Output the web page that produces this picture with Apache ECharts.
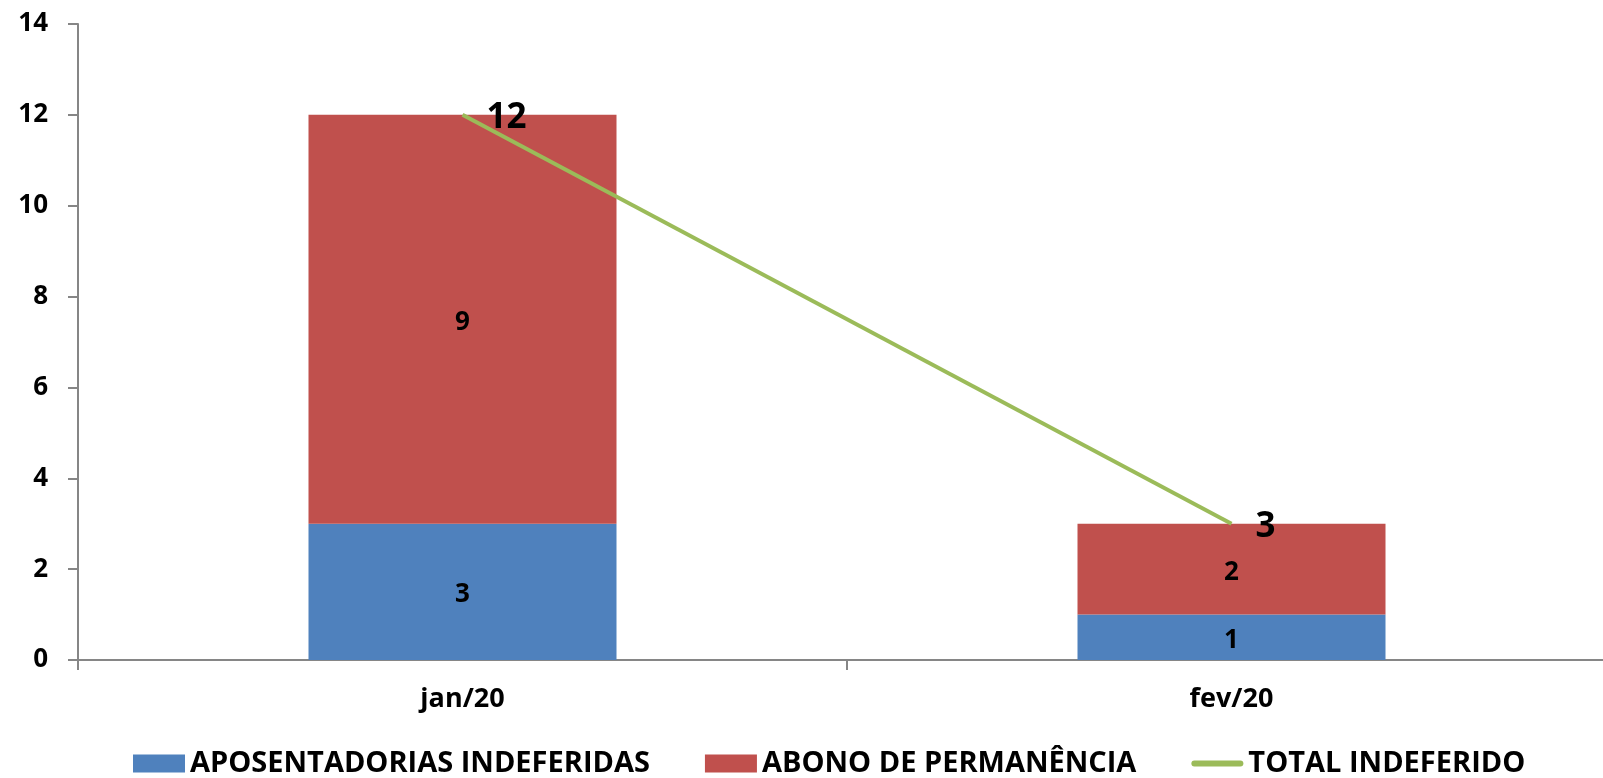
<!DOCTYPE html>
<html>
<head>
<meta charset="utf-8">
<script src="https://cdn.jsdelivr.net/npm/echarts@6/dist/echarts.min.js"></script>
<style>
html,body{margin:0;padding:0;background:#fff;}
#main{width:1603px;height:778px;}
</style>
</head>
<body>
<div id="main"></div>
<script>
var meses = ['jan/20', 'fev/20'];
var aposentadorias = [3, 1];
var abono = [9, 2];
var total = [12, 3];

var fonte = '"Open Sans", "Noto Sans", sans-serif';
var myChart = echarts.init(document.getElementById('main'));

var option = {
    animation: false,
    grid: {left: 78, top: 24, width: 1538, height: 636, outerBoundsMode: 'none', containLabel: false},
    legend: {
        left: 128, top: 744,
        itemGap: 55,
        itemWidth: 52, itemHeight: 18,
        symbolKeepAspect: true,
        textStyle: {color: '#000', fontSize: 29, fontWeight: 'bold', fontFamily: fonte},
        data: [
            {name: 'APOSENTADORIAS INDEFERIDAS', icon: 'rect'},
            {name: 'ABONO DE PERMANÊNCIA', icon: 'rect'},
            {name: 'TOTAL INDEFERIDO', icon: 'path://M3,0 L49,0 A3,3 0 0 1 49,6 L3,6 A3,3 0 0 1 3,0 Z'}
        ]
    },
    xAxis: {
        type: 'category',
        data: meses,
        axisLine: {lineStyle: {color: '#868686', width: 2}},
        axisTick: {show: true, length: 10, lineStyle: {color: '#868686', width: 2}},
        axisLabel: {color: '#000', fontSize: 27, fontWeight: 'bold', fontFamily: fonte, margin: 26}
    },
    yAxis: {
        type: 'value',
        min: 0, max: 14, interval: 2,
        splitLine: {show: false},
        axisLine: {show: true, lineStyle: {color: '#868686', width: 2}},
        axisTick: {show: true, length: 10, lineStyle: {color: '#868686', width: 2}},
        axisLabel: {color: '#000', fontSize: 26, fontWeight: 'bold', fontFamily: fonte, margin: 30}
    },
    series: [
        {
            name: 'APOSENTADORIAS INDEFERIDAS',
            type: 'bar', stack: 'total', barWidth: 308,
            data: aposentadorias,
            itemStyle: {color: '#4F81BD'},
            label: {show: true, position: 'inside', offset: [0, 3], color: '#000', fontSize: 26, fontWeight: 'bold', fontFamily: fonte}
        },
        {
            name: 'ABONO DE PERMANÊNCIA',
            type: 'bar', stack: 'total', barWidth: 308,
            data: abono,
            itemStyle: {color: '#C0504D'},
            label: {show: true, position: 'inside', offset: [0, 3], color: '#000', fontSize: 26, fontWeight: 'bold', fontFamily: fonte}
        },
        {
            name: 'TOTAL INDEFERIDO',
            type: 'line',
            data: total,
            symbol: 'circle',
            symbolSize: 0.1,
            itemStyle: {color: '#9BBB59'},
            lineStyle: {color: '#9BBB59', width: 4},
            label: {show: true, position: 'right', distance: 24, offset: [0, 3], color: '#000', fontSize: 35, fontWeight: 'bold', fontFamily: fonte}
        }
    ]
};
myChart.setOption(option);
</script>
</body>
</html>
